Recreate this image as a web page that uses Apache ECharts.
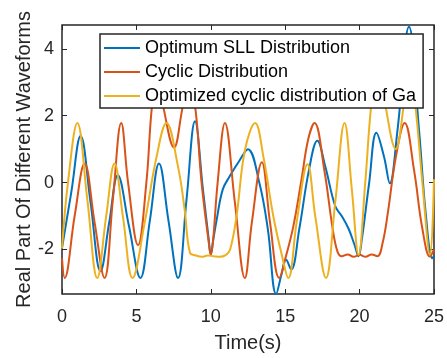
<!DOCTYPE html>
<html>
<head>
<meta charset="utf-8">
<script src="https://cdn.jsdelivr.net/npm/echarts@6/dist/echarts.min.js"></script>
<style>html,body{margin:0;padding:0;background:#fff;}#c{width:447px;height:358px;}</style>
</head>
<body>
<div id="c"></div>
<script>
const seriesNames = ['Optimum SLL Distribution', 'Cyclic Distribution', 'Optimized cyclic distribution of Ga'];
const xTicks = [0, 5, 10, 15, 20, 25];
const yTicks = [-2, 0, 2, 4];

const blueT = [0, 0.62, 1.25, 1.92, 2.59, 3.17, 3.75, 4.5, 5.27, 5.9, 6.52, 7.16, 7.8, 8.37, 8.94, 9.47, 9.85, 10.0, 10.15, 10.4, 10.8, 11.26, 11.93, 12.49, 13.27, 13.83, 14.39, 14.75, 15.05, 15.4, 15.95, 16.6, 17.16, 17.7, 18.36, 18.8, 19.26, 19.65, 19.93, 20.15, 20.64, 21.13, 21.65, 22.03, 22.54, 23.32, 24.0, 24.44, 24.89, 25];
const blueV = [-1.96, -0.3, 1.39, -0.6, -2.65, -1.2, 0.22, -1.3, -2.85, -1.15, 0.57, -1.15, -2.85, -0.5, 1.83, -0.2, -1.65, -2.16, -1.75, -1.1, -0.21, 0.18, 0.66, 1.0, -0.02, -1.38, -3.33, -2.75, -2.3, -2.6, -1.38, 0.38, 1.25, 0.47, -0.7, -1.0, -1.38, -1.85, -2.2, -1.7, -0.02, 1.49, 0.76, -0.02, 1.54, 4.66, 1.54, -0.9, -2.26, -2.2];

const orangeT = [0, 0.18, 0.85, 1.52, 2.19, 2.86, 3.42, 3.98, 4.44, 5.11, 5.67, 6.05, 6.42, 6.79, 7.53, 8.13, 8.53, 8.94, 9.38, 9.85, 10.0, 10.15, 10.46, 10.95, 11.62, 12.29, 12.76, 13.43, 13.98, 14.6, 15.05, 15.55, 16.1, 16.55, 16.97, 17.63, 18.19, 18.52, 18.8, 19.2, 19.6, 20.0, 20.4, 20.8, 21.2, 21.55, 21.9, 22.45, 23.03, 23.66, 24.22, 24.73, 25];
const orangeV = [-2.26, -2.85, -1.0, 0.57, -1.19, -2.85, -0.5, 1.78, 0, -1.87, 0, 2.3, 3.2, 2.3, 1.05, 2.3, 2.95, 2.3, 0, -1.75, -2.16, -1.75, 0, 1.78, -0.6, -2.85, -1.19, 0.61, -1.19, -2.85, -2.2, -1.3, 0.1, 1.3, 1.78, 0.37, -1.38, -2.07, -2.2, -2.15, -2.22, -2.16, -2.22, -2.15, -2.2, -1.8, -0.9, 0.8, 1.78, 0.37, -1.38, -2.21, -2.0];

const yellowT = [0, 0.4, 1.03, 1.7, 2.37, 2.97, 3.53, 4.09, 4.74, 5.56, 6.35, 7.02, 7.8, 8.24, 8.6, 9.0, 9.4, 9.8, 10.2, 10.6, 11.0, 11.3, 11.73, 12.29, 12.98, 13.54, 14.2, 14.77, 15.21, 15.77, 16.5, 17.02, 17.74, 18.36, 18.99, 19.48, 19.93, 20.38, 20.78, 21.26, 21.74, 22.43, 22.97, 23.36, 23.75, 24.22, 24.73, 25];
const yellowV = [-1.97, 0, 1.78, -0.5, -2.85, -1.0, 0.57, -1.0, -2.85, -1.19, 0.76, 1.78, 0.47, -0.8, -2.1, -2.18, -2.22, -2.18, -2.2, -2.22, -2.17, -2.0, -1.0, 0.96, 1.78, 0.76, -1.0, -2.16, -2.85, -1.19, 0.55, -1.0, -2.85, -0.6, 1.78, -0.21, -2.16, 0, 2.3, 3.8, 2.3, 1.0, 2.3, 3.5, 2.3, 0, -2.16, 0.1];

const colors = ['#0072BD', '#D95319', '#EDB120'];
const FONT = '"Liberation Sans", Arial, Helvetica, sans-serif';
const AX = '#262626';

function pairs(t, v) { return t.map((x, i) => [x, v[i]]); }

const chart = echarts.init(document.getElementById('c'), null, {renderer: 'canvas'});
const lineSeries = [[blueT, blueV], [orangeT, orangeV], [yellowT, yellowV]].map((d, i) => ({
  name: seriesNames[i],
  type: 'line',
  data: pairs(d[0], d[1]),
  smooth: 0.4,
  symbol: 'none',
  lineStyle: {color: colors[i], width: 2},
  itemStyle: {color: colors[i]},
  z: 2 + i * 0.1
}));

const tickStyle = {inside: true, length: 5, lineStyle: {color: AX, width: 1}};
const hiddenLine = {show: false, onZero: false};
chart.setOption({
  animation: false,
  textStyle: {fontFamily: FONT},
  grid: {left: 62, right: 12, top: 25, bottom: 58, show: true, borderColor: AX, borderWidth: 1.5, backgroundColor: '#fff'},
  xAxis: [{
    type: 'value', min: 0, max: 25, interval: 5, position: 'bottom',
    axisLine: hiddenLine,
    axisTick: Object.assign({customValues: xTicks}, tickStyle),
    axisLabel: {customValues: xTicks, fontSize: 18, color: AX, margin: 14, fontFamily: FONT},
    splitLine: {show: false},
    name: 'Time(s)', nameLocation: 'middle', nameGap: 39,
    nameTextStyle: {fontSize: 20, color: AX, fontFamily: FONT}
  }, {
    type: 'value', min: 0, max: 25, interval: 5, position: 'top',
    axisLine: hiddenLine, axisTick: Object.assign({customValues: xTicks}, tickStyle),
    axisLabel: {show: false}, splitLine: {show: false}
  }],
  yAxis: [{
    type: 'value', min: -3.33, max: 4.71, position: 'left',
    axisLine: hiddenLine,
    axisTick: Object.assign({customValues: yTicks}, tickStyle),
    axisLabel: {customValues: yTicks, fontSize: 18, color: AX, margin: 8, fontFamily: FONT},
    splitLine: {show: false},
    name: 'Real Part Of Different Waveforms', nameLocation: 'middle', nameGap: 28, nameRotate: 90,
    nameMoveOverlap: false,
    nameTextStyle: {fontSize: 20, color: AX, fontFamily: FONT}
  }, {
    type: 'value', min: -3.33, max: 4.71, position: 'right',
    axisLine: hiddenLine, axisTick: Object.assign({customValues: yTicks}, tickStyle),
    axisLabel: {show: false}, splitLine: {show: false}
  }],
  legend: {
    data: seriesNames,
    orient: 'vertical', left: 100, top: 34,
    backgroundColor: '#fff', borderColor: AX, borderWidth: 1.5, borderRadius: 0,
    padding: [4, 7, 2, 4], itemGap: 4, itemWidth: 36, itemHeight: 2,
    icon: 'rect', selectedMode: false,
    textStyle: {fontSize: 18, color: '#000', lineHeight: 20, fontFamily: FONT},
    z: 10
  },
  series: lineSeries
});
</script>
</body>
</html>
